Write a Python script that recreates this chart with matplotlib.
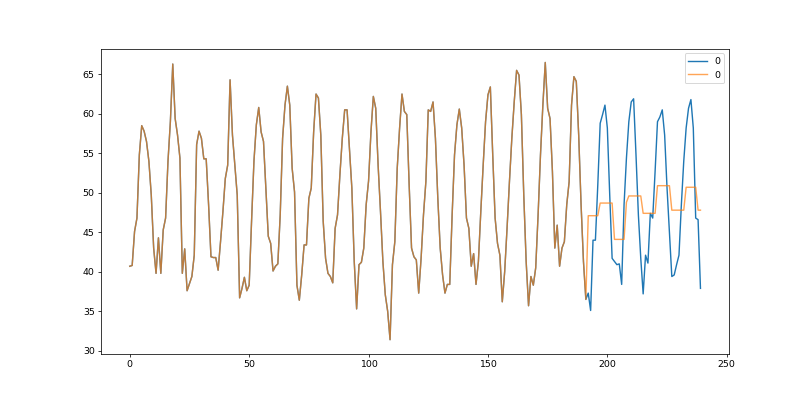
import matplotlib
matplotlib.use('Agg')
import matplotlib.pyplot as plt
import numpy as np

# observed series (index 0..239)
actual = [
    40.7, 40.8, 45.1, 46.8, 54.8, 58.5, 57.8, 56.5, 54.0, 49.7,
    43.0, 39.8, 44.3, 39.8, 45.3, 46.8, 54.0, 59.0, 66.3, 59.4,
    57.3, 54.4, 39.8, 42.9, 37.6, 38.5, 39.4, 42.1, 56.1, 57.8,
    56.9, 54.3, 54.3, 48.5, 41.9, 41.8, 41.8, 40.2, 43.8, 47.6,
    51.8, 53.5, 64.3, 57.3, 53.5, 49.7, 36.7, 37.9, 39.3, 37.6,
    38.3, 46.4, 54.0, 58.6, 60.8, 57.7, 56.5, 50.6, 44.5, 43.6,
    40.1, 40.7, 41.0, 47.2, 56.9, 61.1, 63.5, 61.1, 53.1, 50.1,
    38.3, 36.4, 39.6, 43.4, 43.4, 49.3, 50.6, 57.7, 62.5, 62.0,
    57.3, 46.4, 41.7, 39.8, 39.4, 38.6, 45.5, 47.2, 52.3, 56.9,
    60.5, 60.5, 55.6, 50.6, 41.3, 35.3, 40.9, 41.2, 43.0, 48.5,
    51.5, 57.7, 62.2, 60.7, 53.5, 47.6, 41.3, 37.1, 35.0, 31.4,
    40.9, 43.8, 53.1, 58.2, 62.5, 60.3, 59.9, 51.0, 43.0, 41.9,
    41.5, 37.3, 41.7, 47.2, 51.4, 60.5, 60.3, 61.5, 56.9, 49.3,
    43.0, 39.6, 37.3, 38.4, 38.4, 47.2, 54.8, 58.6, 60.6, 58.2,
    53.5, 46.8, 45.5, 40.7, 42.3, 38.4, 41.3, 47.6, 53.5, 59.0,
    62.4, 63.4, 54.8, 46.8, 43.6, 42.1, 36.2, 40.0, 45.5, 51.4,
    56.9, 61.5, 65.5, 64.9, 59.9, 49.7, 41.3, 35.7, 39.4, 38.3,
    40.5, 47.2, 54.8, 61.1, 66.5, 60.7, 59.4, 52.7, 43.0, 45.9,
    40.7, 43.0, 43.8, 48.5, 51.4, 61.1, 64.7, 64.1, 57.3, 48.5,
    41.3, 36.5, 37.3, 35.1, 44.0, 44.0, 51.0, 58.8, 59.9, 61.1,
    58.2, 49.7, 41.7, 41.3, 40.9, 41.0, 38.4, 48.5, 54.4, 59.0,
    61.5, 61.9, 54.8, 47.2, 41.7, 37.2, 42.1, 41.1, 47.4, 46.8,
    52.7, 59.0, 59.6, 60.5, 57.3, 50.6, 45.1, 39.4, 39.6, 40.9,
    42.1, 48.5, 54.0, 58.2, 60.7, 61.8, 58.2, 46.8, 46.6, 37.9,
]

# forecast for index 192..239
forecast = [
    47.1, 47.1, 47.1, 47.1, 47.1,
    48.7, 48.7, 48.7, 48.7, 48.7, 48.7,
    44.1, 44.1, 44.1, 44.1, 44.1, 48.8,
    49.6, 49.6, 49.6, 49.6, 49.6, 49.6,
    47.4, 47.4, 47.4, 47.4, 47.4, 47.4,
    50.9, 50.9, 50.9, 50.9, 50.9, 50.9,
    47.8, 47.8, 47.8, 47.8, 47.8, 47.8,
    50.7, 50.7, 50.7, 50.7, 50.7,
    47.8, 47.8,
]

n_train = 192
x = np.arange(len(actual))
predicted = actual[:n_train] + forecast

fig, ax = plt.subplots(figsize=(12, 6))
fig.subplots_adjust(bottom=0.127, top=0.88)
ax.plot(x, actual, color='C0', label='0')
ax.plot(x, predicted, color='C1', alpha=0.7, label='0')
ax.legend()

fig.savefig('out.png', dpi=67.5)
